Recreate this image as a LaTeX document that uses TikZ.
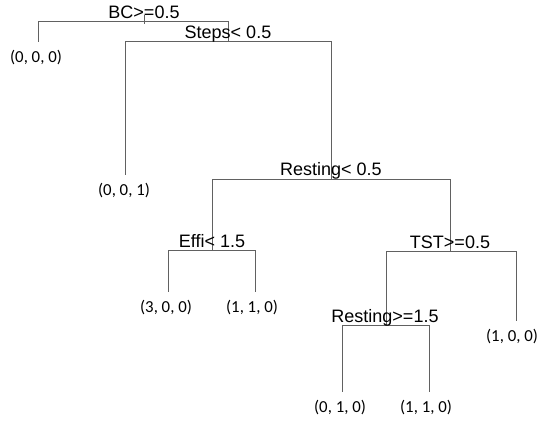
\documentclass[tikz,border=0pt]{standalone}
\usepackage{fontspec}
\setmainfont{Liberation Sans}
\newfontfamily\leaffont{Carlito}
\begin{document}
\begin{tikzpicture}[x=1pt,y=-1pt,
  branch/.style={draw=black!62,line width=0.8pt},
  splitlabel/.style={anchor=base,inner sep=0pt,font=\fontsize{18}{20}\selectfont},
  leaf/.style={inner sep=0pt,font=\leaffont\fontsize{16.8}{18}\selectfont}]
\useasboundingbox (0,0) rectangle (539,424);
% split points
\coordinate (root) at (144,21);
\coordinate (rootstub) at (144,15);
\coordinate (steps) at (228,41);
\coordinate (rest1) at (331,179);
\coordinate (effi) at (212,250);
\coordinate (tst) at (450,251);
\coordinate (rest2) at (386,325);
% leaf line ends
\coordinate (l1e) at (38,42);
\coordinate (l2e) at (125,175);
\coordinate (l3e) at (168,292);
\coordinate (l4e) at (255,292);
\coordinate (l5e) at (516,321);
\coordinate (l6e) at (342,392);
\coordinate (l7e) at (429,392);
% connectors
\draw[branch] (rootstub) -- (144,24);
\draw[branch] (root) -| (l1e);
\draw[branch] (root) -| (steps);
\draw[branch] (steps) -| (l2e);
\draw[branch] (steps) -| (rest1);
\draw[branch] (rest1) -| (effi);
\draw[branch] (rest1) -| (tst);
\draw[branch] (effi) -| (l3e);
\draw[branch] (effi) -| (l4e);
\draw[branch] (tst) -| (rest2);
\draw[branch] (tst) -| (l5e);
\draw[branch] (rest2) -| (l6e);
\draw[branch] (rest2) -| (l7e);
% split labels
\node[splitlabel] (tBC) at (144,18) {BC>=0.5};
\node[splitlabel] (tSteps) at (228,38) {Steps< 0.5};
\node[splitlabel] (tRest1) at (331,175) {Resting< 0.5};
\node[splitlabel] (tEffi) at (212,247) {Effi< 1.5};
\node[splitlabel] (tTST) at (450,248) {TST>=0.5};
\node[splitlabel] (tRest2) at (385,322) {Resting>=1.5};
% leaves
\node[leaf] (l1) at (36,58) {(0, 0, 0)};
\node[leaf] (l2) at (124,191) {(0, 0, 1)};
\node[leaf] (l3) at (166,308) {(3, 0, 0)};
\node[leaf] (l4) at (252,308) {(1, 1, 0)};
\node[leaf] (l5) at (512,337) {(1, 0, 0)};
\node[leaf] (l6) at (340,408) {(0, 1, 0)};
\node[leaf] (l7) at (426,408) {(1, 1, 0)};
\end{tikzpicture}
\end{document}
